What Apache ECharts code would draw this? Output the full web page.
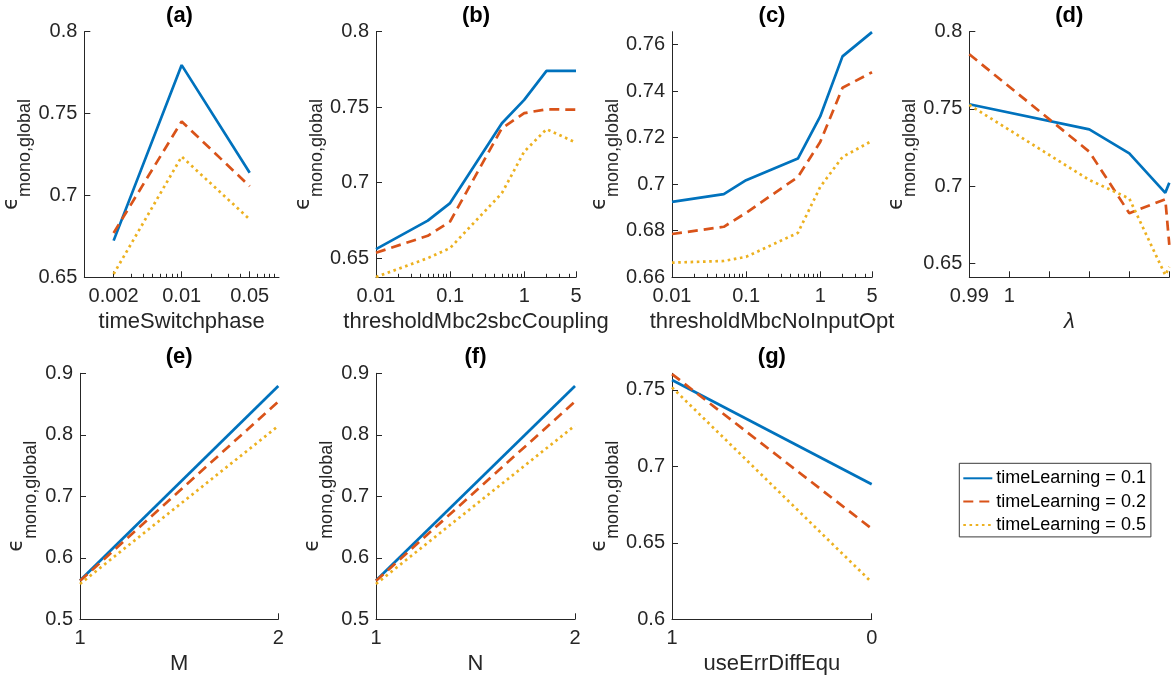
<!DOCTYPE html>
<html>
<head>
<meta charset="utf-8">
<script src="https://cdn.jsdelivr.net/npm/echarts@6/dist/echarts.min.js"></script>
<style>
  html, body { margin: 0; padding: 0; background: #fff; }
  #chart { width: 1175px; height: 682px; }
</style>
</head>
<body>
<div id="chart"></div>
<script>
// Series labels shared by every panel
const seriesNames = ['timeLearning = 0.1', 'timeLearning = 0.2', 'timeLearning = 0.5'];

// (a) timeSwitchphase sweep
const timeSwitchphase = [0.002, 0.01, 0.05];
const aLearn01 = [0.6724, 0.7796, 0.7139];
const aLearn02 = [0.6771, 0.7452, 0.7056];
const aLearn05 = [0.6520, 0.7237, 0.6854];
const aXTicks = [0.002, 0.01, 0.05];

// (b) thresholdMbc2sbcCoupling sweep
const thresholdCoupling = [0.01, 0.05, 0.1, 0.5, 1, 2, 5];
const bLearn01 = [0.6559, 0.6748, 0.6864, 0.7393, 0.7548, 0.7740, 0.7740];
const bLearn02 = [0.6535, 0.6647, 0.6742, 0.7360, 0.7460, 0.7486, 0.7483];
const bLearn05 = [0.6374, 0.6499, 0.6566, 0.6930, 0.7205, 0.7354, 0.7265];

// (c) thresholdMbcNoInputOpt sweep
const thresholdNoInput = [0.01, 0.05, 0.1, 0.5, 1, 2, 5];
const cLearn01 = [0.6924, 0.6957, 0.7017, 0.7110, 0.7291, 0.7549, 0.7653];
const cLearn02 = [0.6786, 0.6817, 0.6877, 0.7031, 0.7181, 0.7414, 0.7481];
const cLearn05 = [0.6663, 0.6670, 0.6688, 0.6791, 0.6988, 0.7117, 0.7186];
const bcXTicks = [0.01, 0.1, 1, 5];

// (d) lambda sweep (tick positions 0..5, only the first two labelled)
const lambdaPos = [0, 3, 4, 4.9, 5];
const dLearn01 = [0.7530, 0.7368, 0.7212, 0.6957, 0.7022];
const dLearn02 = [0.7854, 0.7223, 0.6825, 0.6915, 0.6620];
const dLearn05 = [0.7526, 0.7040, 0.6920, 0.6424, 0.6478];
const lambdaTickLabels = ['0.99', '1', '', '', '', ''];

// (e) M sweep
const mValues = [1, 2];
const eLearn01 = [0.5630, 0.8794];
const eLearn02 = [0.5625, 0.8540];
const eLearn05 = [0.5575, 0.8144];

// (f) N sweep
const nValues = [1, 2];
const fLearn01 = [0.5630, 0.8794];
const fLearn02 = [0.5625, 0.8540];
const fLearn05 = [0.5575, 0.8150];

// (g) useErrDiffEqu switch
const useErrDiffEqu = [1, 0];
const gLearn01 = [0.7565, 0.6883];
const gLearn02 = [0.7604, 0.6593];
const gLearn05 = [0.7517, 0.6242];

// y tick values per panel
const yTicksA = [0.65, 0.7, 0.75, 0.8];
const yTicksB = [0.65, 0.7, 0.75, 0.8];
const yTicksC = [0.66, 0.68, 0.7, 0.72, 0.74, 0.76];
const yTicksD = [0.65, 0.7, 0.75, 0.8];
const yTicksEF = [0.5, 0.6, 0.7, 0.8, 0.9];
const yTicksG = [0.6, 0.65, 0.7, 0.75];

// ---- styling ----
const AX = '#262626';
const FONT = '"Liberation Sans", Arial, Helvetica, sans-serif';
const COLORS = ['#0072BD', '#D95319', '#EDB120'];
const DASHES = ['solid', [10, 6], [2.6, 3.6]];
const TICK_FS = 20;
const NAME_FS = 22;

function num(v) { return String(+(+v).toPrecision(6)); }

// log-decade minor positions between lo and hi, skipping majors
function logMinor(lo, hi, majors) {
  const out = [];
  for (let d = Math.floor(Math.log10(lo)); d <= Math.ceil(Math.log10(hi)); d++) {
    for (let k = 1; k <= 9; k++) {
      const v = +(k * Math.pow(10, d)).toPrecision(6);
      if (v > lo && v < hi && majors.indexOf(v) < 0) out.push(v);
    }
  }
  return out;
}

const panels = [
  { title: '(a)', box: [80, 31.7, 199, 245.6], xName: 'timeSwitchphase',
    x: { type: 'log', min: 0.001, max: 0.1, ticks: aXTicks },
    y: { min: 0.65, max: 0.8, ticks: yTicksA },
    xs: timeSwitchphase, ys: [aLearn01, aLearn02, aLearn05] },
  { title: '(b)', box: [376, 31.7, 200, 245.6], xName: 'thresholdMbc2sbcCoupling',
    x: { type: 'log', min: 0.01, max: 5, ticks: bcXTicks },
    y: { min: 0.6372, max: 0.8, ticks: yTicksB },
    xs: thresholdCoupling, ys: [bLearn01, bLearn02, bLearn05] },
  { title: '(c)', box: [672, 31.7, 200, 245.6], xName: 'thresholdMbcNoInputOpt',
    x: { type: 'log', min: 0.01, max: 5, ticks: bcXTicks },
    y: { min: 0.66, max: 0.7655, ticks: yTicksC },
    xs: thresholdNoInput, ys: [cLearn01, cLearn02, cLearn05] },
  { title: '(d)', box: [969.3, 31.7, 200, 245.6], xName: 'λ', xItalic: true,
    x: { type: 'value', min: 0, max: 5, interval: 1, labels: lambdaTickLabels },
    y: { min: 0.641, max: 0.8, ticks: yTicksD },
    xs: lambdaPos, ys: [dLearn01, dLearn02, dLearn05] },
  { title: '(e)', box: [80, 373.3, 198.3, 246], xName: 'M',
    x: { type: 'value', min: 1, max: 2, interval: 1 },
    y: { min: 0.5, max: 0.9, ticks: yTicksEF },
    xs: mValues, ys: [eLearn01, eLearn02, eLearn05] },
  { title: '(f)', box: [376, 373.3, 199, 246], xName: 'N',
    x: { type: 'value', min: 1, max: 2, interval: 1 },
    y: { min: 0.5, max: 0.9, ticks: yTicksEF },
    xs: nValues, ys: [fLearn01, fLearn02, fLearn05] },
  { title: '(g)', box: [672, 373.3, 199.7, 246], xName: 'useErrDiffEqu',
    x: { type: 'value', min: 0, max: 1, interval: 1, inverse: true },
    y: { min: 0.6, max: 0.7609, ticks: yTicksG },
    xs: useErrDiffEqu, ys: [gLearn01, gLearn02, gLearn05] }
];

const grid = [], xAxis = [], yAxis = [], series = [], title = [];

panels.forEach((p, i) => {
  const [left, top, width, height] = p.box;
  grid.push({ left, top, width, height, containLabel: false, show: false });

  title.push({
    text: p.title, left: left + width / 2, top: top - 27, textAlign: 'center', padding: 0,
    textStyle: { fontSize: 22, fontWeight: 'bold', color: '#000', fontFamily: FONT }
  });

  const nameStyle = { fontSize: NAME_FS, color: AX, fontFamily: FONT,
                      fontStyle: p.xItalic ? 'italic' : 'normal' };
  const baseX = {
    gridIndex: i, position: 'bottom', min: p.x.min, max: p.x.max,
    axisLine: { show: true, onZero: false, lineStyle: { color: AX, width: 1 } },
    splitLine: { show: false },
    name: p.xName, nameLocation: 'middle', nameGap: 34, nameTextStyle: nameStyle
  };

  const mainXIndex = xAxis.length;
  if (p.x.type === 'log') {
    xAxis.push(Object.assign({}, baseX, {
      type: 'log', logBase: 10,
      axisTick: { show: true, inside: true, length: 6, customValues: p.x.ticks, lineStyle: { color: AX } },
      axisLabel: { customValues: p.x.ticks, formatter: v => num(v), color: AX, fontSize: TICK_FS, fontFamily: FONT, margin: 9 }
    }));
    // minor log ticks
    xAxis.push({
      gridIndex: i, position: 'bottom', type: 'log', logBase: 10, min: p.x.min, max: p.x.max,
      axisLine: { show: false }, splitLine: { show: false }, axisLabel: { show: false },
      axisTick: { show: true, inside: true, length: 3.5,
                  customValues: logMinor(p.x.min, p.x.max, p.x.ticks), lineStyle: { color: AX } }
    });
  } else {
    const labels = p.x.labels;
    xAxis.push(Object.assign({}, baseX, {
      type: 'value', interval: p.x.interval, inverse: !!p.x.inverse,
      axisTick: { show: true, inside: true, length: 6, lineStyle: { color: AX } },
      axisLabel: {
        color: AX, fontSize: TICK_FS, fontFamily: FONT, margin: 9, showMinLabel: true, showMaxLabel: true,
        formatter: labels ? (v => labels[Math.round(v - p.x.min)] || '') : (v => num(v))
      }
    }));
  }

  yAxis.push({
    gridIndex: i, type: 'value', min: p.y.min, max: p.y.max,
    axisLine: { show: true, onZero: false, lineStyle: { color: AX, width: 1 } },
    axisTick: { show: true, inside: true, length: 6, customValues: p.y.ticks, lineStyle: { color: AX } },
    axisLabel: { customValues: p.y.ticks, formatter: v => num(v), color: AX, fontSize: TICK_FS, fontFamily: FONT, margin: 7 },
    splitLine: { show: false },
    name: '{e|ϵ}{s|mono,global}', nameLocation: 'middle', nameRotate: 90, nameGap: 40,
    nameTextStyle: {
      color: AX, fontFamily: FONT,
      rich: {
        e: { fontSize: 21, color: AX, fontFamily: '"DejaVu Sans", ' + FONT },
        s: { fontSize: 18, color: AX, fontFamily: FONT, padding: [28, 0, 0, 0] }
      }
    }
  });

  p.ys.forEach((vals, k) => {
    series.push({
      name: seriesNames[k], type: 'line', xAxisIndex: mainXIndex, yAxisIndex: i,
      data: p.xs.map((x, j) => [x, vals[j]]),
      symbol: 'none', showSymbol: false, clip: true, silent: true, animation: false, z: 2 + k,
      lineStyle: { color: COLORS[k], width: 2.7, type: DASHES[k], cap: 'butt' },
      itemStyle: { color: COLORS[k] }
    });
  });
});

const chart = echarts.init(document.getElementById('chart'), null, { renderer: 'canvas' });
chart.setOption({
  animation: false,
  backgroundColor: '#fff',
  title,
  grid, xAxis, yAxis, series,
  legend: {
    data: seriesNames, orient: 'vertical', left: 959.3, top: 463.3,
    padding: [6, 5, 3, 3], itemGap: 5.3, itemWidth: 29, itemHeight: 14,
    backgroundColor: '#fff', borderColor: '#3a3a3a', borderWidth: 1, borderRadius: 0,
    selectedMode: false,
    itemStyle: { opacity: 0, borderWidth: 0 },
    textStyle: { fontSize: 18, color: '#000', fontFamily: FONT, padding: [0, 0, 0, -1] }
  }
});
</script>
</body>
</html>
